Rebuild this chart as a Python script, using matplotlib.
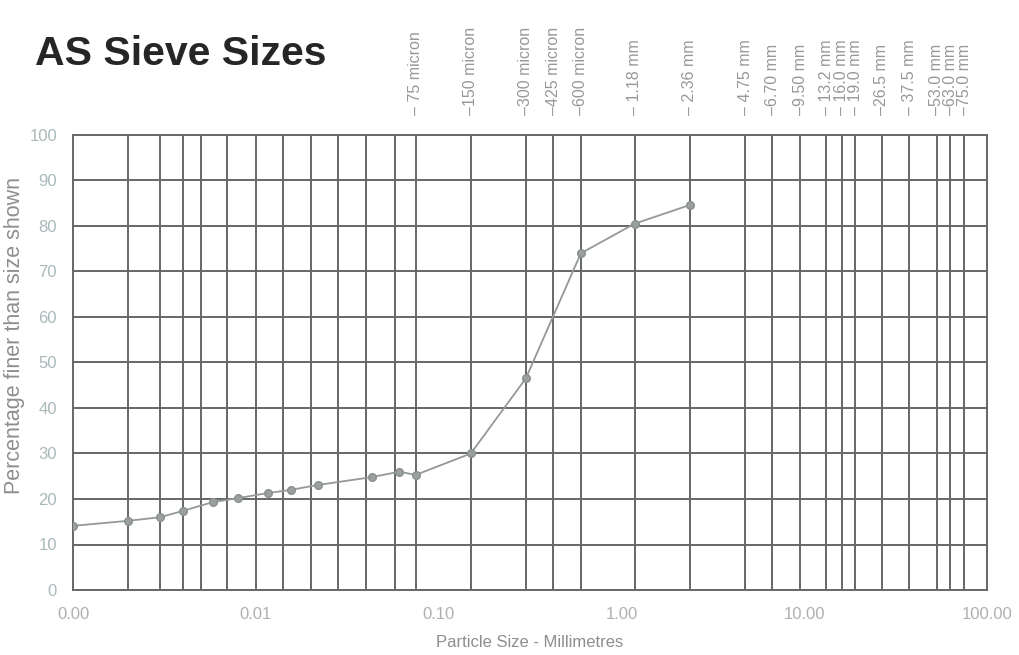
import matplotlib
matplotlib.use("Agg")
import matplotlib.pyplot as plt
import matplotlib.transforms as mtransforms
from matplotlib.ticker import NullLocator

# particle size distribution (hydrometer + sieve)
size_mm = [0.001, 0.002, 0.003, 0.004, 0.0058, 0.008, 0.0116, 0.0155, 0.022,
           0.043, 0.061, 0.075, 0.15, 0.3, 0.6, 1.18, 2.36]
pct_finer = [14.1, 15.2, 16.0, 17.4, 19.3, 20.2, 21.3, 22.0, 23.1,
             24.8, 26.0, 25.3, 30.0, 46.5, 74.0, 80.5, 84.6]

# AS sieve apertures
sieve_mm = [0.075, 0.15, 0.3, 0.425, 0.6, 1.18, 2.36, 4.75, 6.7, 9.5,
            13.2, 16.0, 19.0, 26.5, 37.5, 53.0, 63.0, 75.0]
sieve_labels = ['– 75 micron', '–150 micron', '–300 micron', '–425 micron',
                '–600 micron', '– 1.18 mm', '– 2.36 mm', '– 4.75 mm',
                '–6.70 mm', '–9.50 mm', '– 13.2 mm', '– 16.0 mm', '– 19.0 mm',
                '–26.5 mm', '– 37.5 mm', '–53.0 mm', '–63.0 mm', '–75.0 mm']

# extra vertical rulings in the fine range
fine_grid_mm = [0.002, 0.003, 0.004, 0.005, 0.007, 0.01, 0.014, 0.02,
                0.028, 0.04, 0.058]

decades = [0.001, 0.01, 0.1, 1, 10, 100]
decade_labels = ['0.00', '0.01', '0.10', '1.00', '10.00', '100.00']
pct_ticks = [0, 10, 20, 30, 40, 50, 60, 70, 80, 90, 100]

plt.rcParams['font.family'] = ['Liberation Sans', 'DejaVu Sans']

fig = plt.figure(figsize=(10.19, 6.55), dpi=100)
ax = fig.add_axes([73 / 1019, 1 - 590 / 655, 914 / 1019, 455 / 655])

grid_c = '#666666'
for v in fine_grid_mm + sieve_mm:
    ax.axvline(v, color=grid_c, lw=1.4, zorder=1)
for p in pct_ticks[1:-1]:
    ax.axhline(p, color=grid_c, lw=1.4, zorder=1)

ax.plot(size_mm, pct_finer, color='#939898', lw=1.3, marker='o',
        markersize=5.5, markerfacecolor='#9aa0a0', markeredgecolor='#8a9090',
        zorder=3)

ax.set_xscale('log')
ax.set_xlim(0.001, 100)
ax.set_ylim(0, 100)
ax.xaxis.set_minor_locator(NullLocator())
ax.set_xticks(decades)
ax.set_xticklabels(decade_labels)
ax.set_yticks(pct_ticks)
ax.tick_params(axis='x', length=0, pad=12, labelsize=12, labelcolor='#b0b0b0')
ax.tick_params(axis='y', length=0, pad=11.5, labelsize=12, labelcolor='#a9b9b9')
for s in ax.spines.values():
    s.set_color(grid_c)
    s.set_linewidth(1.4)

ax.set_ylabel('Percentage finer than size shown', fontsize=15.5,
              color='#8e8e8e', va='center')
ax.yaxis.set_label_coords(-0.064, 0.56)
ax.set_xlabel('Particle Size - Millimetres', fontsize=12, color='#8e8e8e',
              va='center')
ax.xaxis.set_label_coords(0.5, -0.116)

# sieve names along the top
trans = mtransforms.blended_transform_factory(ax.transData, ax.transAxes)
for v, lab in zip(sieve_mm, sieve_labels):
    ax.text(v, 1.045, lab, transform=trans, rotation=90, ha='center',
            va='bottom', fontsize=11.5, color='#989898', clip_on=False)

fig.text(0.034, 0.918, 'AS Sieve Sizes', fontsize=29.5, fontweight='bold',
         color='#262626', ha='left', va='center')

fig.savefig('out.png', dpi=100)
